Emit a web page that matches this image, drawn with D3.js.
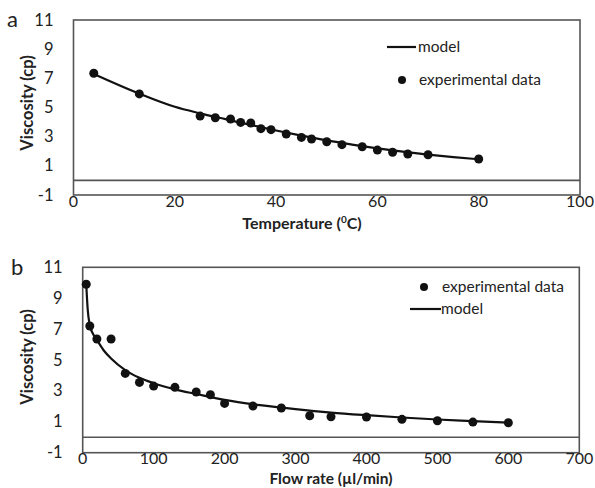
<!DOCTYPE html>
<html><head><meta charset="utf-8">
<script src="https://cdn.jsdelivr.net/npm/d3@7"></script>
<style>body{margin:0;background:#fff}svg{display:block}text{font-family:Lato,"Open Sans",sans-serif;fill:#222}</style>
</head><body>
<svg id="c" width="595" height="488"></svg>
<script>
// Panel a: temperature data
const tempX = [4,13,25,28,31,33,35,37,39,42,45,47,50,53,57,60,63,66,70,80];
const tempY = [7.35,5.93,4.41,4.3,4.21,3.98,3.94,3.55,3.48,3.18,2.95,2.84,2.65,2.45,2.31,2.08,1.93,1.81,1.76,1.47];
const tempModelX = [4,13,20,25,30,35,40,45,50,55,60,65,70,75,80];
const tempModelY = [7.3,5.95,5.05,4.6,4.2,3.8,3.42,3.07,2.74,2.46,2.2,1.97,1.77,1.6,1.45];
const tempTicks = [0,20,40,60,80,100];
// Panel b: flow rate data
const flowX = [5,10,20,40,60,80,100,130,160,180,200,240,280,320,350,400,450,500,550,600];
const flowY = [9.9,7.2,6.36,6.36,4.13,3.55,3.31,3.23,2.93,2.75,2.19,2.02,1.89,1.39,1.33,1.31,1.16,1.07,0.98,0.94];
const flowModelX = [5,7,10,15,20,30,40,60,80,100,130,160,200,250,300,350,400,450,500,550,600];
const flowModelY = [9.9,8.3,7.25,6.65,6.3,5.6,5.1,4.35,3.85,3.5,3.1,2.8,2.42,2.08,1.82,1.6,1.43,1.28,1.15,1.05,0.95];
const flowTicks = [0,100,200,300,400,500,600,700];
const yTicks = [-1,1,3,5,7,9,11];

const svg = d3.select("#c");

function panel(o){
  const g = svg.append("g");
  const x = d3.scaleLinear().domain(o.xd).range([o.l,o.r]);
  const y = d3.scaleLinear().domain([-1,11]).range([o.b,o.t]);
  g.append("rect").attr("x",o.l).attr("y",o.t).attr("width",o.r-o.l).attr("height",o.b-o.t)
    .attr("fill","none").attr("stroke","#555").attr("stroke-width",1.6);
  g.append("line").attr("x1",o.l).attr("x2",o.r).attr("y1",y(0)).attr("y2",y(0))
    .attr("stroke","#555").attr("stroke-width",1.6);
  g.selectAll(".yt").data(yTicks).join("text").attr("x",o.l-20).attr("y",d=>y(d)+5.5)
    .attr("text-anchor","end").attr("font-size",16.5).text(d=>d);
  g.selectAll(".xt").data(o.ticks).join("text").attr("x",d=>x(d)).attr("y",o.xty)
    .attr("text-anchor","middle").attr("font-size",16).text(d=>d);
  g.append("text").attr("x",o.lx).attr("y",o.ly).attr("font-size",22).text(o.letter);
  g.append("text").attr("transform",`translate(${33},${o.ytc}) rotate(-90)`)
    .attr("text-anchor","middle").attr("font-size",16.5).attr("font-weight","bold").text("Viscosity (cp)");
  const line = d3.line().x(d=>x(d[0])).y(d=>y(d[1])).curve(d3.curveMonotoneX);
  g.append("path").attr("d",line(o.mx.map((v,i)=>[v,o.my[i]]))).attr("fill","none")
    .attr("stroke","#111").attr("stroke-width",2.2);
  g.selectAll(".pt").data(o.px.map((v,i)=>[v,o.py[i]])).join("circle")
    .attr("cx",d=>x(d[0])).attr("cy",d=>y(d[1])).attr("r",4.5).attr("fill","#111");
  return {g,x,y};
}

const a = panel({l:73.5,r:580,t:20,b:195,xd:[0,100],ticks:tempTicks,xty:207,letter:"a",lx:7,ly:27,ytc:103,
  mx:tempModelX,my:tempModelY,px:tempX,py:tempY});
const at = a.g.append("text").attr("x",302).attr("y",229).attr("text-anchor","middle")
  .attr("font-size",16).attr("font-weight","bold");
at.append("tspan").text("Temperature (");
at.append("tspan").attr("font-size",10).attr("dy",-6).text("0");
at.append("tspan").attr("dy",6).text("C)");
a.g.append("line").attr("x1",387).attr("x2",416).attr("y1",47).attr("y2",47).attr("stroke","#111").attr("stroke-width",2.2);
a.g.append("text").attr("x",418).attr("y",52).attr("font-size",15.5).text("model");
a.g.append("circle").attr("cx",402).attr("cy",80).attr("r",4).attr("fill","#111");
a.g.append("text").attr("x",419).attr("y",85).attr("font-size",15.5).text("experimental data");

const b = panel({l:82.7,r:579.3,t:267.3,b:452.7,xd:[0,700],ticks:flowTicks,xty:464,letter:"b",lx:11,ly:275,ytc:357,
  mx:flowModelX,my:flowModelY,px:flowX,py:flowY});
b.g.append("text").attr("x",331).attr("y",484).attr("text-anchor","middle")
  .attr("font-size",15.5).attr("font-weight","bold").text("Flow rate (µl/min)");
b.g.append("circle").attr("cx",424).attr("cy",287).attr("r",4).attr("fill","#111");
b.g.append("text").attr("x",442).attr("y",292).attr("font-size",15.5).text("experimental data");
b.g.append("line").attr("x1",410).attr("x2",441).attr("y1",309).attr("y2",309).attr("stroke","#111").attr("stroke-width",2.2);
b.g.append("text").attr("x",441).attr("y",314).attr("font-size",15.5).text("model");
</script>
</body></html>
